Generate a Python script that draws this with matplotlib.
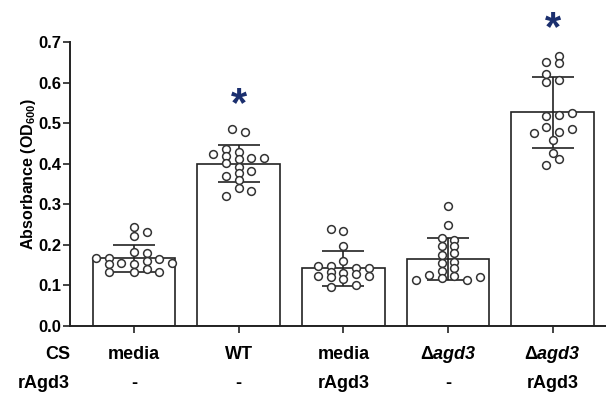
import matplotlib
matplotlib.use("Agg")
import matplotlib.pyplot as plt
import matplotlib.transforms as mtransforms

plt.rcParams['font.family'] = ['Liberation Sans', 'DejaVu Sans']
plt.rcParams['font.weight'] = 'bold'
plt.rcParams['mathtext.fontset'] = 'custom'
plt.rcParams['mathtext.rm'] = 'Liberation Sans:bold'
plt.rcParams['mathtext.bf'] = 'Liberation Sans:bold'
plt.rcParams['mathtext.it'] = 'Liberation Sans:italic:bold'
plt.rcParams['mathtext.bfit'] = 'Liberation Sans:italic:bold'

# group labels (two rows under the axis)
cs_labels = ['media', 'WT', 'media', r'$\mathbf{\Delta}\mathbfit{agd3}$', r'$\mathbf{\Delta}\mathbfit{agd3}$']
ragd3_labels = ['-', '-', 'rAgd3', '-', 'rAgd3']

# bar means and SD
means = [0.167, 0.400, 0.142, 0.166, 0.527]
sds = [0.033, 0.046, 0.043, 0.052, 0.0875]

# individual replicate values, with the swarm column each dot sits in
pts_media = [0.243, 0.231, 0.221, 0.182, 0.179, 0.168, 0.168, 0.165, 0.155,
             0.152, 0.155, 0.152, 0.159, 0.134, 0.134, 0.140, 0.132]
col_media = [0, 1, 0, 0, 1, -3, -2, 2, 3, -2, -1, 0, 1, -2, 0, 1, 2]

pts_wt = [0.485, 0.479, 0.424, 0.436, 0.420, 0.401, 0.430, 0.411, 0.393,
          0.413, 0.413, 0.370, 0.378, 0.360, 0.383, 0.341, 0.333, 0.320]
col_wt = [-0.5, 0.5, -2, -1, -1, -1, 0, 0, 0, 1, 2, -1, 0, 0, 1, 0, 1, -1]

pts_media_r = [0.239, 0.234, 0.196, 0.160, 0.149, 0.149, 0.142, 0.142, 0.134,
               0.130, 0.127, 0.124, 0.124, 0.120, 0.116, 0.097, 0.101]
col_media_r = [-1, 0, 0, 0, -2, -1, 1, 2, -1, 0, 1, 2, -2, -1, 0, -1, 1]

pts_agd3 = [0.296, 0.248, 0.218, 0.197, 0.175, 0.155, 0.136, 0.118, 0.212,
            0.196, 0.179, 0.158, 0.142, 0.123, 0.113, 0.126, 0.113, 0.120]
col_agd3 = [0, 0, -0.5, -0.5, -0.5, -0.5, -0.5, -0.5, 0.5,
            0.5, 0.5, 0.5, 0.5, 0.5, -2.5, -1.5, 1.5, 2.5]

pts_agd3_r = [0.651, 0.666, 0.649, 0.620, 0.602, 0.606, 0.518, 0.519, 0.524,
              0.476, 0.490, 0.477, 0.485, 0.458, 0.427, 0.411, 0.396]
col_agd3_r = [-0.5, 0.5, 0.5, -0.5, -0.5, 0.5, -0.5, 0.5, 1.5,
              -1.5, -0.5, 0.5, 1.5, 0, 0, 0.5, -0.5]

points = [pts_media, pts_wt, pts_media_r, pts_agd3, pts_agd3_r]
columns = [col_media, col_wt, col_media_r, col_agd3, col_agd3_r]

# significance stars (group index, height)
star_groups = [1, 4]
star_heights = [0.545, 0.732]

dark = '#222222'
fig = plt.figure(figsize=(6.06, 3.96), dpi=100)
ax = fig.add_axes([0.1155, 0.1768, 0.8845, 0.7171])

x = list(range(len(means)))
ax.bar(x, means, width=0.79, color='white', edgecolor=dark, linewidth=1.2, zorder=2)
ax.errorbar(x, means, yerr=sds, fmt='none', ecolor=dark, elinewidth=1.2,
            capsize=14.8, capthick=1.2, zorder=3)

step = 0.121
for i, (vals, cols) in enumerate(zip(points, columns)):
    xs = [i + c * step for c in cols]
    ax.plot(xs, vals, 'o', ms=5.6, mfc='white', mec='#333333', mew=1.1,
            zorder=4, clip_on=False)

for g, h in zip(star_groups, star_heights):
    ax.text(g, h, '*', color='#1b2f6e', fontsize=30, fontweight='bold',
            ha='center', va='center', clip_on=False)

ax.set_xlim(-0.611, 4.508)
ax.set_ylim(0, 0.7)
ax.set_yticks([0.0, 0.1, 0.2, 0.3, 0.4, 0.5, 0.6, 0.7])
ax.set_yticklabels(['0.0', '0.1', '0.2', '0.3', '0.4', '0.5', '0.6', '0.7'])
ax.set_xticks(x)
ax.set_xticklabels([])
ax.tick_params(axis='both', length=5, width=1.2, color=dark, labelsize=12, pad=1)
for side in ['top', 'right']:
    ax.spines[side].set_visible(False)
for side in ['left', 'bottom']:
    ax.spines[side].set_linewidth(1.4)
    ax.spines[side].set_color(dark)

ax.set_ylabel(r'Absorbance (OD$_{600}$)', fontsize=11.5, fontweight='bold')
ax.yaxis.set_label_coords(-0.06, 0.535)

trans = mtransforms.blended_transform_factory(ax.transData, ax.transAxes)
for i in x:
    ax.text(i, -0.102, cs_labels[i], transform=trans, ha='center', va='center', fontsize=13)
    ax.text(i, -0.204, ragd3_labels[i], transform=trans, ha='center', va='center', fontsize=13)
ax.text(-0.611, -0.102, 'CS', transform=trans, ha='right', va='center', fontsize=13)
ax.text(-0.611, -0.204, 'rAgd3', transform=trans, ha='right', va='center', fontsize=13)

fig.savefig('out.png', dpi=100)
